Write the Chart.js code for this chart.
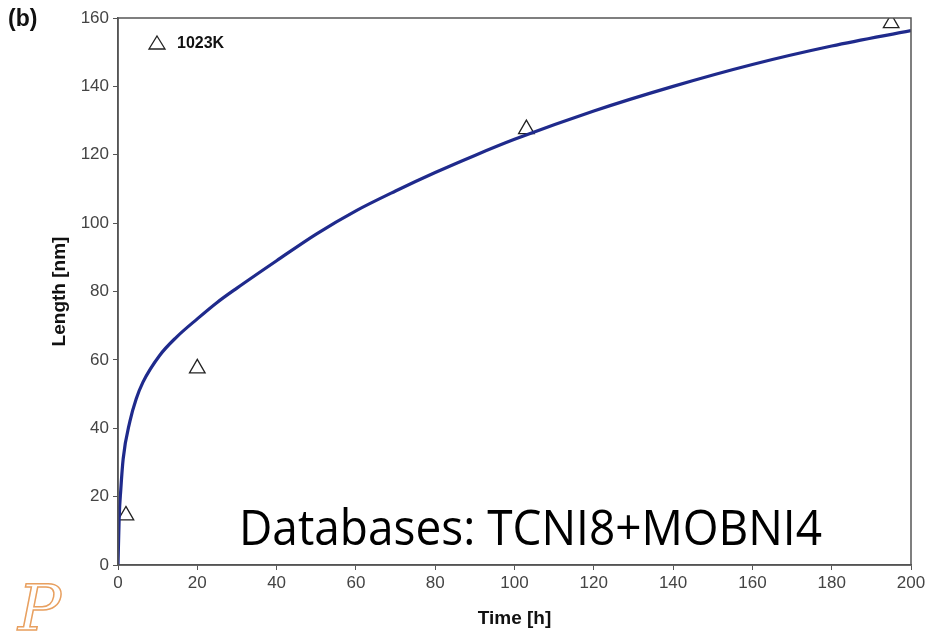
<!DOCTYPE html>
<html>
<head>
<meta charset="utf-8">
<script src="https://cdn.jsdelivr.net/npm/chart.js@4.4.1/dist/chart.umd.min.js"></script>
<style>
  html, body { margin: 0; padding: 0; background: #fff; }
  #wrap { width: 929px; height: 634px; position: relative; }
</style>
</head>
<body>
<div id="wrap"><canvas id="lengthChart" width="929" height="634"></canvas></div>
<script>
// simulated curve (time in h, length in nm)
const curveTime = [0, 0.3, 0.7, 1.3, 3, 4.6, 6.3, 10.5, 14.7, 20, 25, 30, 40, 50, 60, 70, 80, 90, 100, 120, 140, 160, 180, 200];
const curveLength = [0, 14, 22, 31, 42, 48.6, 53.5, 61.3, 66.6, 72, 76.8, 81, 89, 96.8, 103.6, 109.4, 114.8, 119.8, 124.5, 132.8, 140, 146.4, 151.8, 156.3];

// measured points, 1023K
const expTime = [2, 20, 103, 195];
const expLength = [14.5, 57.5, 127.5, 158.5];

const xTicks = [0, 20, 40, 60, 80, 100, 120, 140, 160, 180, 200];
const yTicks = [0, 20, 40, 60, 80, 100, 120, 140, 160];

const tickFont = { family: 'Arial, "Liberation Sans", sans-serif', size: 17 };

// extra labels, frame and logo
const decorPlugin = {
    id: 'decor',
    afterDraw(chart) {
        const c = chart.ctx;
        const a = chart.chartArea;
        c.save();
        // frame
        c.strokeStyle = '#555';
        c.lineWidth = 1.5;
        c.strokeRect(a.left, a.top, a.right - a.left, a.bottom - a.top);

        // (b)
        c.fillStyle = '#111';
        c.font = 'bold 23px Arial, "Liberation Sans", sans-serif';
        c.textBaseline = 'middle';
        c.fillText('(b)', 8, 20);

        // y title
        c.save();
        c.translate(60, (a.top + a.bottom) / 2);
        c.rotate(-Math.PI / 2);
        c.textAlign = 'center';
        c.font = 'bold 19px Arial, "Liberation Sans", sans-serif';
        c.fillText('Length [nm]', 0, 0);
        c.restore();

        // legend
        const lx = 157, ly = 43;
        c.strokeStyle = '#222';
        c.lineWidth = 1.3;
        c.beginPath();
        c.moveTo(lx, ly - 7);
        c.lineTo(lx + 8, ly + 6);
        c.lineTo(lx - 8, ly + 6);
        c.closePath();
        c.stroke();
        c.font = 'bold 16px Arial, "Liberation Sans", sans-serif';
        c.fillStyle = '#111';
        c.fillText('1023K', 177, 44);

        // database note, squeezed to the reference width
        c.font = '50px "Open Sans", "Noto Sans", sans-serif';
        c.fillStyle = '#000';
        c.textBaseline = 'alphabetic';
        const note = 'Databases: TCNI8+MOBNI4';
        const w = c.measureText(note).width;
        c.save();
        c.translate(239, 545);
        c.scale(583 / w, 1);
        c.fillText(note, 0, 0);
        c.restore();

        // logo
        c.font = 'italic 64px "DejaVu Serif", serif';
        c.strokeStyle = '#e8a060';
        c.lineWidth = 1.5;
        c.strokeText('P', 18, 630);
        c.restore();
    }
};

new Chart(document.getElementById('lengthChart'), {
    type: 'scatter',
    data: {
        datasets: [
            {
                type: 'line',
                label: 'simulation',
                data: curveTime.map((t, i) => ({ x: t, y: curveLength[i] })),
                borderColor: '#1f2a8c',
                borderWidth: 3.2,
                pointRadius: 0,
                cubicInterpolationMode: 'monotone',
                fill: false
            },
            {
                label: '1023K',
                data: expTime.map((t, i) => ({ x: t, y: expLength[i] })),
                pointStyle: 'triangle',
                pointRadius: 9,
                borderColor: '#222',
                borderWidth: 1.3,
                backgroundColor: 'rgba(0,0,0,0)'
            }
        ]
    },
    options: {
        responsive: false,
        animation: false,
        layout: { padding: { top: 18, right: 18, left: 0, bottom: 0 } },
        plugins: {
            legend: { display: false },
            tooltip: { enabled: false }
        },
        scales: {
            x: {
                type: 'linear',
                min: 0,
                max: 200,
                afterBuildTicks: axis => { axis.ticks = xTicks.map(v => ({ value: v })); },
                afterFit: axis => { axis.height = 69; },
                grid: { drawOnChartArea: false, color: '#555', tickLength: 5 },
                border: { color: '#555', width: 1.5 },
                ticks: { color: '#444', font: tickFont, padding: 3, maxRotation: 0 },
                title: {
                    display: true,
                    text: 'Time [h]',
                    color: '#111',
                    font: { family: 'Arial, "Liberation Sans", sans-serif', size: 19, weight: 'bold' },
                    padding: { top: 4 }
                }
            },
            y: {
                min: 0,
                max: 160,
                afterBuildTicks: axis => { axis.ticks = yTicks.map(v => ({ value: v })); },
                afterFit: axis => { axis.width = 118; },
                grid: { drawOnChartArea: false, color: '#555', tickLength: 5 },
                border: { color: '#555', width: 1.5 },
                ticks: { color: '#444', font: tickFont, padding: 4 }
            }
        }
    },
    plugins: [decorPlugin]
});
</script>
</body>
</html>
